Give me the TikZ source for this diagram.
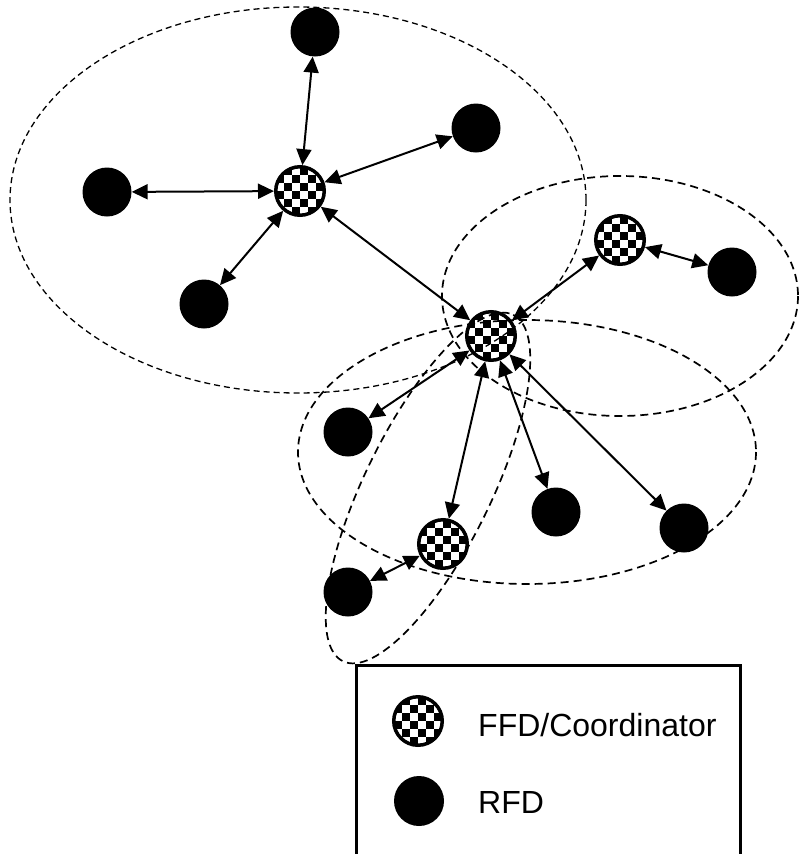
\documentclass[tikz,border=0pt]{standalone}
\usepackage{fontspec}
\setmainfont{Liberation Sans}
\usetikzlibrary{arrows.meta}
\begin{document}
\begin{tikzpicture}[x=1pt,y=-1pt,
  rfd/.style={circle,fill=black,minimum size=49pt,inner sep=0pt},
  ffd/.style={circle,draw=black,line width=3.5pt,minimum size=48.5pt,inner sep=0pt,fill=white,
    path picture={
      \foreach \i in {-4,...,3}{
        \foreach \j in {-4,...,3}{
          \pgfmathtruncatemacro\p{mod(\i+\j+100,2)}
          \ifnum\p=0
            \fill[black] ([xshift=\i*7.8pt,yshift=\j*7.8pt]path picture bounding box.center) rectangle ++(7.8pt,7.8pt);
          \fi
        }
      }
    }},
  conn/.style={{Triangle[length=16pt,width=15pt]}-{Triangle[length=16pt,width=15pt]},line width=2pt},
  zone/.style={dash pattern=on 8pt off 5pt,line width=1.7pt},
  bigzone/.style={dash pattern=on 6pt off 4pt,line width=1.3pt},
  legtext/.style={anchor=base west,inner sep=0pt,font=\fontsize{32pt}{38pt}\selectfont}
]
\useasboundingbox (0,0) rectangle (798,854);

% coordinators
\node[ffd] (c1) at (300,191) {};
\node[ffd] (c2) at (491,336) {};
\node[ffd] (c3) at (620,240) {};
\node[ffd] (c4) at (443,544) {};

% end devices
\node[rfd] (r1) at (315,32) {};
\node[rfd] (r2) at (476,128) {};
\node[rfd] (r3) at (107,192) {};
\node[rfd] (r4) at (204,304) {};
\node[rfd] (r5) at (732,272) {};
\node[rfd] (r6) at (348,432) {};
\node[rfd] (r7) at (556,512) {};
\node[rfd] (r8) at (684,528) {};
\node[rfd] (r9) at (348,592) {};

% zones
\draw[bigzone] (298,200) ellipse [x radius=288, y radius=193];
\draw[zone] (620,296) ellipse [x radius=178, y radius=120];
\draw[zone] (527,452) ellipse [x radius=229, y radius=132];
\draw[zone,rotate around={63.8:(428,488)}] (428,488) ellipse [x radius=193, y radius=63];

% links
\draw[conn] (c1) -- (r1);
\draw[conn] (c1) -- (r2);
\draw[conn] (c1) -- (r3);
\draw[conn] (c1) -- (r4);
\draw[conn] (c1) -- (c2);
\draw[conn] (c2) -- (c3);
\draw[conn] (c3) -- (r5);
\draw[conn] (c2) -- (r6);
\draw[conn] (c2) -- (c4);
\draw[conn] (c2) -- (r7);
\draw[conn] (c2) -- (r8);
\draw[conn] (c4) -- (r9);

% legend
\coordinate (lb1) at (356,860);
\coordinate (lt1) at (356,665);
\coordinate (lt2) at (740,665);
\coordinate (lb2) at (740,860);
\draw[line width=3pt] (lb1) -- (lt1) -- (lt2) -- (lb2);
\node[ffd] (lf) at (418,721) {};
\node[rfd,minimum size=50pt] (lr) at (419,801) {};
\node[legtext] (lft) at (478,736) {FFD/Coordinator};
\node[legtext] (lrt) at (478,813) {RFD};
\end{tikzpicture}
\end{document}
